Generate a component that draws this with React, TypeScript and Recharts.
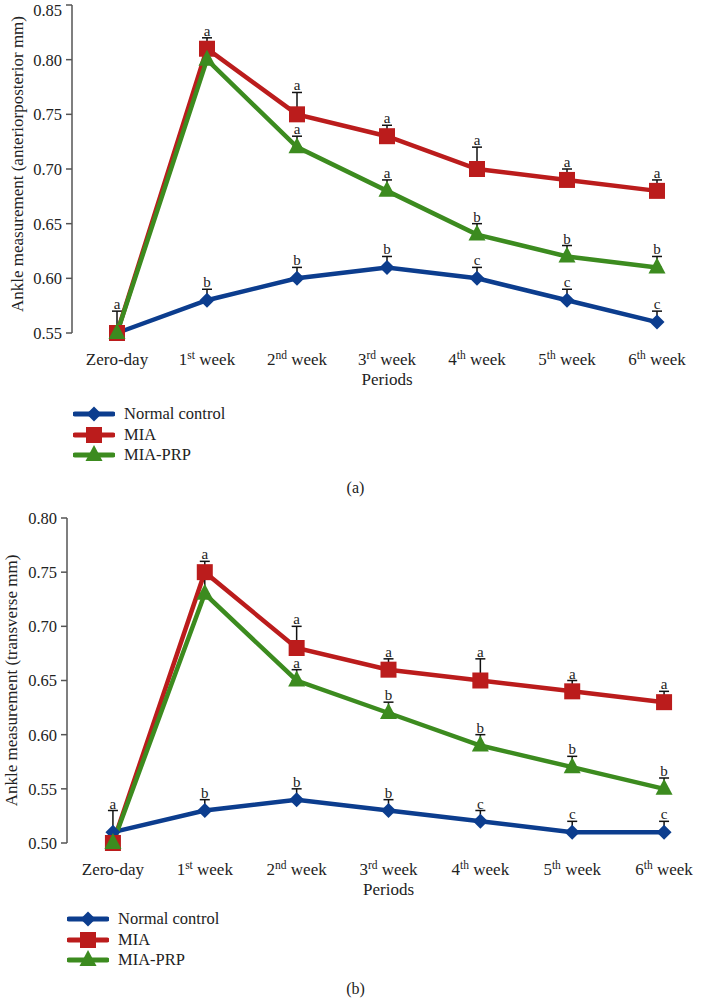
import React from 'react';
import { LineChart, Line, XAxis, YAxis, ErrorBar, LabelList, Legend } from 'recharts';

const periods = ['Zero-day', '1st week', '2nd week', '3rd week', '4th week', '5th week', '6th week'];
const periodNum = ['Zero-day', '1', '2', '3', '4', '5', '6'];
const periodSup = ['', 'st', 'nd', 'rd', 'th', 'th', 'th'];
const seriesNames = ['Normal control', 'MIA', 'MIA-PRP'];

// (a) anteroposterior
const apNormal = [0.55, 0.58, 0.6, 0.61, 0.6, 0.58, 0.56];
const apNormalErr = [0.02, 0.01, 0.01, 0.01, 0.01, 0.01, 0.01];
const apNormalSig = ['a', 'b', 'b', 'b', 'c', 'c', 'c'];
const apMia = [0.55, 0.81, 0.75, 0.73, 0.7, 0.69, 0.68];
const apMiaErr = [0, 0.01, 0.02, 0.01, 0.02, 0.01, 0.01];
const apMiaSig = ['', 'a', 'a', 'a', 'a', 'a', 'a'];
const apPrp = [0.55, 0.8, 0.72, 0.68, 0.64, 0.62, 0.61];
const apPrpErr = [0, 0.01, 0.01, 0.01, 0.01, 0.01, 0.01];
const apPrpSig = ['', '', 'a', 'a', 'b', 'b', 'b'];
const apTicks = [0.55, 0.6, 0.65, 0.7, 0.75, 0.8, 0.85];

// (b) transverse
const trNormal = [0.51, 0.53, 0.54, 0.53, 0.52, 0.51, 0.51];
const trNormalErr = [0.02, 0.01, 0.01, 0.01, 0.01, 0.01, 0.01];
const trNormalSig = ['a', 'b', 'b', 'b', 'c', 'c', 'c'];
const trMia = [0.5, 0.75, 0.68, 0.66, 0.65, 0.64, 0.63];
const trMiaErr = [0, 0.01, 0.02, 0.01, 0.02, 0.01, 0.01];
const trMiaSig = ['', 'a', 'a', 'a', 'a', 'a', 'a'];
const trPrp = [0.5, 0.73, 0.65, 0.62, 0.59, 0.57, 0.55];
const trPrpErr = [0, 0.02, 0.01, 0.01, 0.01, 0.01, 0.01];
const trPrpSig = ['', '', 'a', 'b', 'b', 'b', 'b'];
const trTicks = [0.5, 0.55, 0.6, 0.65, 0.7, 0.75, 0.8];

const edgeTicks = [0, 1, 2, 3, 4, 5, 6, 7];

const FONT = '"Liberation Serif", "DejaVu Serif", serif';
const AXIS = '#555';
const BLUE = '#0c3d8e';
const RED = '#bb1c1c';
const GREEN = '#3c8b1f';

const buildRows = (n: number[], ne: number[], ns: string[], m: number[], me: number[], ms: string[], p: number[], pe: number[], ps: string[]) =>
  periods.map((period, i) => ({
    period,
    normal: n[i], normalErr: [0, ne[i]], normalTop: n[i] + ne[i], normalSig: ns[i],
    mia: m[i], miaErr: [0, me[i]], miaTop: m[i] + me[i], miaSig: ms[i],
    prp: p[i], prpErr: [0, pe[i]], prpTop: p[i] + pe[i], prpSig: ps[i],
  }));

const apRows = buildRows(apNormal, apNormalErr, apNormalSig, apMia, apMiaErr, apMiaSig, apPrp, apPrpErr, apPrpSig);
const trRows = buildRows(trNormal, trNormalErr, trNormalSig, trMia, trMiaErr, trMiaSig, trPrp, trPrpErr, trPrpSig);

const Diamond = ({ cx, cy, color }: any) => (
  <path d={`M${cx},${cy - 7.5} L${cx + 7.5},${cy} L${cx},${cy + 7.5} L${cx - 7.5},${cy} Z`} fill={color} />
);
const Square = ({ cx, cy, color }: any) => (
  <rect x={cx - 8} y={cy - 8} width={16} height={16} fill={color} />
);
const Triangle = ({ cx, cy, color }: any) => (
  <path d={`M${cx},${cy - 10} L${cx + 8.5},${cy + 6} L${cx - 8.5},${cy + 6} Z`} fill={color} />
);

const markers: Record<string, any> = { 'Normal control': Diamond, MIA: Square, 'MIA-PRP': Triangle };

const dotOf = (Shape: any, color: string) => (props: any) => (
  <Shape key={`dot-${props.index}`} cx={props.cx} cy={props.cy} color={color} />
);

const PeriodTick = ({ x, y, payload }: any) => {
  const i = periods.indexOf(payload.value);
  return (
    <text x={x} y={y + 24} textAnchor="middle" fontFamily={FONT} fontSize={17} fill="#222">
      {periodNum[i]}
      {periodSup[i] ? (
        <>
          <tspan dy={-6} fontSize={11.5}>{periodSup[i]}</tspan>
          <tspan dy={6}> week</tspan>
        </>
      ) : null}
    </text>
  );
};

const yTitle = (text: string, dx: number, dy: number) => (props: any) => {
  const { viewBox } = props;
  const cx = viewBox.x + dx;
  const cy = viewBox.y + viewBox.height / 2 + dy;
  return (
    <text x={cx} y={cy} transform={`rotate(-90 ${cx} ${cy})`} textAnchor="middle" dominantBaseline="central" fontFamily={FONT} fontSize={17} fill="#222">
      {text}
    </text>
  );
};

const LegendBox = ({ payload }: any) => {
  const entries = seriesNames
    .map((name) => (payload || []).find((e: any) => e.value === name))
    .filter(Boolean);
  return (
    <div style={{ fontFamily: FONT, fontSize: 16.5, color: '#222' }}>
      {entries.map((entry: any) => {
        const Shape = markers[entry.value];
        return (
          <div key={entry.value} style={{ display: 'flex', alignItems: 'center', height: 20.5 }}>
            <svg width={42} height={20} style={{ display: 'block' }}>
              <line x1={2} y1={10} x2={40} y2={10} stroke={entry.color} strokeWidth={5} strokeLinecap="round" />
              <Shape cx={21} cy={10} color={entry.color} />
            </svg>
            <span style={{ marginLeft: 9 }}>{entry.value}</span>
          </div>
        );
      })}
    </div>
  );
};

interface PanelProps {
  rows: any[];
  ticks: number[];
  title: string;
  titleX: number;
  titleDy: number;
  height: number;
  margin: { top: number; right: number; bottom: number; left: number };
  yWidth: number;
  legendTop: number;
  legendLeft: number;
}

const sigStyle = { fontFamily: FONT, fontSize: 15, fill: '#222' };

const Panel = ({ rows, ticks, title, titleX, titleDy, height, margin, yWidth, legendTop, legendLeft }: PanelProps) => (
  <LineChart width={711} height={height} data={rows} margin={margin}>
    <XAxis xAxisId="edge" type="number" domain={[0, 7]} ticks={edgeTicks} tick={false} tickSize={6} height={0}
      stroke={AXIS} strokeWidth={1.5} allowDataOverflow />
    <XAxis xAxisId="cat" dataKey="period" type="category" scale="band" axisLine={false} tickLine={false} height={55}
      tick={<PeriodTick />} interval={0}
      label={{ value: 'Periods', position: 'insideBottom', offset: 3, fontFamily: FONT, fontSize: 17, fill: '#222' }} />
    <YAxis domain={[ticks[0], ticks[ticks.length - 1]]} ticks={ticks} width={yWidth} stroke={AXIS} strokeWidth={1.5}
      tickSize={6} tickMargin={4} tickFormatter={(v: number) => v.toFixed(2)}
      tick={{ fontFamily: FONT, fontSize: 16.5, fill: '#222' }} label={yTitle(title, titleX, titleDy)} />
    <Legend layout="vertical" align="center" verticalAlign="middle" content={<LegendBox />}
      wrapperStyle={{ top: legendTop, left: legendLeft, width: 'auto' }} />
    <Line xAxisId="cat" dataKey="normal" name="Normal control" stroke={BLUE} strokeWidth={4.5} isAnimationActive={false}
      dot={dotOf(Diamond, BLUE)} activeDot={false}>
      <ErrorBar dataKey="normalErr" direction="y" width={5} stroke="#111" strokeWidth={1.5} />
    </Line>
    <Line xAxisId="cat" dataKey="mia" name="MIA" stroke={RED} strokeWidth={4.5} isAnimationActive={false}
      dot={dotOf(Square, RED)} activeDot={false}>
      <ErrorBar dataKey="miaErr" direction="y" width={5} stroke="#111" strokeWidth={1.5} />
    </Line>
    <Line xAxisId="cat" dataKey="prp" name="MIA-PRP" stroke={GREEN} strokeWidth={4.5} isAnimationActive={false}
      dot={dotOf(Triangle, GREEN)} activeDot={false}>
      <ErrorBar dataKey="prpErr" direction="y" width={5} stroke="#111" strokeWidth={1.5} />
    </Line>
    {['normal', 'mia', 'prp'].map((k) => (
      <Line key={k} xAxisId="cat" dataKey={`${k}Top`} stroke="none" dot={false} activeDot={false} legendType="none"
        isAnimationActive={false}>
        <LabelList dataKey={`${k}Sig`} position="top" offset={2} style={sigStyle} />
      </Line>
    ))}
  </LineChart>
);

const capStyle: React.CSSProperties = {
  position: 'absolute', width: 711, textAlign: 'center', fontFamily: FONT, fontSize: 16, color: '#222',
};

export default function App() {
  return (
    <div style={{ position: 'absolute', top: 0, left: 0, width: 711, height: 1001, background: '#fff' }}>
      <div style={{ position: 'absolute', top: 0, left: 0 }}>
        <Panel rows={apRows} ticks={apTicks} title="Ankle measurement (anteriorposterior mm)" titleX={17} titleDy={-5}
          height={500} margin={{ top: 5, right: 9, bottom: 112, left: 0 }} yWidth={72} legendTop={404} legendLeft={73} />
      </div>
      <div style={{ ...capStyle, top: 479 }}>(a)</div>
      <div style={{ position: 'absolute', top: 500, left: 0 }}>
        <Panel rows={trRows} ticks={trTicks} title="Ankle measurement (transverse mm)" titleX={11} titleDy={0}
          height={501} margin={{ top: 18, right: 1, bottom: 103, left: 0 }} yWidth={67} legendTop={409} legendLeft={67} />
      </div>
      <div style={{ ...capStyle, top: 980 }}>(b)</div>
    </div>
  );
}
